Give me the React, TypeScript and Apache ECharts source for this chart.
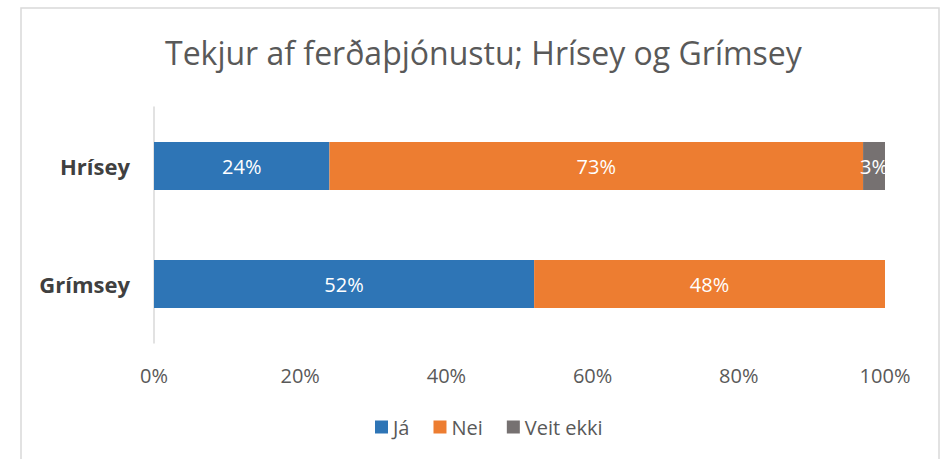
import React, { useEffect, useRef } from "react";
import * as echarts from "echarts";

const categories = ["Hrísey", "Grímsey"];
const jaValues = [24, 52];
const neiValues = [73, 48];
const veitEkkiValues = [3, 0];
const seriesNames = ["Já", "Nei", "Veit ekki"];
const colors = ["#2e75b6", "#ed7d31", "#767171"];
const titleText = "Tekjur af ferðaþjónustu; Hrísey og Grímsey";

const FONT = "'Open Sans', 'Noto Sans', sans-serif";

export default function App() {
  const ref = useRef<HTMLDivElement>(null);
  useEffect(() => {
    if (!ref.current) return;
    const chart = echarts.init(ref.current, undefined, { renderer: "svg" });
    const mk = (name: string, data: number[], color: string) => ({
      name,
      type: "bar",
      stack: "total",
      barWidth: 48,
      data,
      itemStyle: { color },
      label: {
        show: true,
        position: "inside",
        color: "#ffffff",
        fontFamily: FONT,
        fontSize: 20,
        formatter: (p: any) => (p.value > 0 ? p.value + "%" : ""),
      },
    });
    chart.setOption({
      animation: false,
      backgroundColor: "#ffffff",
      title: {
        text: titleText,
        left: 160,
        top: 31,
        textStyle: { fontFamily: FONT, fontSize: 32, fontWeight: "normal", color: "#595959" },
      },
      graphic: [
        {
          type: "rect",
          shape: { x: 21, y: 8, width: 918, height: 470 },
          style: { fill: "none", stroke: "#d9d9d9", lineWidth: 1.5 },
          silent: true,
        },
      ],
      legend: {
        bottom: 17,
        left: 370,
        itemWidth: 13,
        itemHeight: 13,
        itemGap: 24,
        icon: "rect",
        textStyle: { fontFamily: FONT, fontSize: 20, color: "#595959" },
        data: seriesNames,
      },
      grid: { left: 154, right: 57, top: 107, bottom: 116, containLabel: false },
      xAxis: {
        type: "value",
        min: 0,
        max: 100,
        interval: 20,
        axisLine: { show: false },
        axisTick: { show: false },
        splitLine: { show: false },
        axisLabel: {
          formatter: "{value}%",
          margin: 22,
          fontFamily: FONT,
          fontSize: 20,
          color: "#595959",
        },
      },
      yAxis: {
        type: "category",
        data: categories,
        inverse: true,
        axisLine: { show: true, lineStyle: { color: "#d9d9d9", width: 1.5 } },
        axisTick: { show: false },
        axisLabel: {
          margin: 24,
          fontFamily: FONT,
          fontSize: 22,
          fontWeight: "bold",
          color: "#404040",
        },
      },
      series: [
        mk(seriesNames[0], jaValues, colors[0]),
        mk(seriesNames[1], neiValues, colors[1]),
        mk(seriesNames[2], veitEkkiValues, colors[2]),
      ],
    });
    return () => chart.dispose();
  }, []);
  return (
    <div
      ref={ref}
      style={{ position: "fixed", left: 0, top: 0, width: 942, height: 459 }}
    />
  );
}
